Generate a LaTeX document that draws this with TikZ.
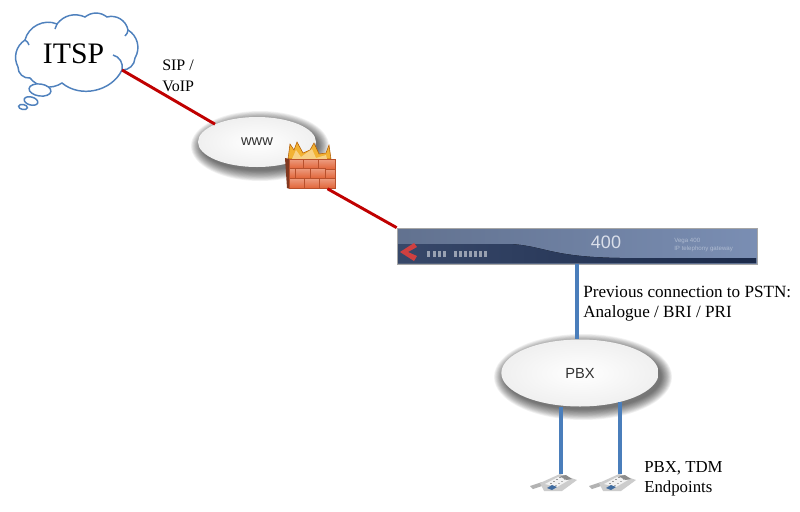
\documentclass[tikz,border=0pt]{standalone}
\usepackage{fontspec}
\setmainfont{Liberation Serif}
\setsansfont{Liberation Sans}
\usepackage{tikz}
\usetikzlibrary{calc, positioning, shapes.geometric}
\definecolor{xred}{HTML}{C00000}
\definecolor{xblue}{HTML}{4A7EBB}
\definecolor{xcloud}{HTML}{4F81BD}
\definecolor{xbrick}{HTML}{E2663A}
\definecolor{xmortar}{HTML}{B8502C}
\definecolor{xflame}{HTML}{F2B233}
\definecolor{xpanel}{HTML}{7A8EB3}
\definecolor{xdark}{HTML}{1B2A4A}
\tikzset{
  sipline/.style = {xred, line width=2.2pt},
  tdmline/.style = {xblue, line width=2.7pt},
  cloudline/.style = {xcloud, line width=1.1pt},
  label/.style = {font=\fontsize{12.85}{15}\selectfont, align=left, anchor=west, inner sep=0pt},
  hub/.style = {ellipse, inner sep=0pt, inner color=white, outer color=black!6, text=black!80, font=\sffamily\fontsize{11}{13}\selectfont},
  softshadow/.style = {black, fill opacity=0.05},
  brick/.style = {top color=xbrick!65!white, bottom color=xbrick, draw=xmortar, line width=0.4pt},
  pics/phone/.style = { code={
    \fill[black!30] (-22,3) -- (-10,-1) -- (-7,2) -- (-19,6) -- cycle;
    \fill[black!20] (-12,0) -- (8,-9) -- (25,-3) -- (10,8) -- (-8,8) -- cycle;
    \fill[black!5] (-7,1) -- (6,-6) -- (17,-3) -- (5,4) -- cycle;
    \fill[black!45] (8,-7) -- (14,-8) -- (20,-4) -- (14,-3) -- cycle;
    \fill[xblue!85!black] (-5,5) -- (0,2) -- (5,4) -- (0,7) -- cycle;
    \foreach \k in {0,...,3} { \fill[black!40] (-2+3*\k,0-2*\k) rectangle ++(1.6,1); \fill[black!30] (3+3*\k,2-2*\k) rectangle ++(1.6,1); }
  }},
}

\begin{document}
\begin{tikzpicture}[x=0.75pt, y=-0.75pt]
  \useasboundingbox (0,0) rectangle (800,511);
  \fill[white] (0,0) rectangle (800,511);

  % cloud
  \draw[cloudline, fill=white] (25,40) to[bend left=50] (57,24) to[bend left=38] (85,17) to[bend left=38] (107,17)
    to[bend left=48] (128,30) to[bend left=45] (135,58) to[bend left=45] (122,70) to[bend left=52] (62,83)
    to[bend left=42] (30,78) to[bend left=50] (18,67) to[bend left=42] (25,40);
  \draw[cloudline] (122,70) to[bend right=45] (113,55);
  \draw[cloudline] (25,40) to[bend left=20] (29,45);
  \draw[cloudline] (57,24) to[bend left=15] (55,29);
  \draw[cloudline] (128,30) to[bend left=20] (125,36);
  \draw[cloudline, fill=white, rotate around={-8:(40,90)}] (40,90) ellipse (11 and 6);
  \draw[cloudline, fill=white, rotate around={-15:(31,101)}] (31,101) ellipse (7 and 4);
  \draw[cloudline, fill=white, rotate around={-10:(23,107)}] (23,107) ellipse (4.5 and 2.5);
  \node[font=\fontsize{22.3}{25}\selectfont, inner sep=0pt] (itsp) at (73.5,54) {ITSP};
  \coordinate (cloudtip) at (122,70);

  % soft shadows under the two ellipses
  \foreach \i in {0,...,13} {
    \fill[softshadow] (260,146) ellipse ({69-0.8*\i} and {35-0.8*\i});
    \fill[softshadow] (583,377) ellipse ({89-0.8*\i} and {43-0.8*\i});
  }
  \node[hub, minimum width=88.5pt, minimum height=37.5pt] (www) at (257,142) {www};
  \node[hub, minimum width=118pt, minimum height=50.25pt] (pbx) at (580,373) {PBX};

  % firewall
  \fill[xflame, draw=orange!70!black, line width=0.4pt] (288,159) -- (290,144) -- (294,150) -- (297,142) -- (303,153) -- (310,150) -- (314,143) -- (319,154) -- (326,153) -- (329,145) -- (331,159) -- cycle;
  \fill[xflame!60!white] (292,159) -- (296,150) -- (301,157) -- (312,149) -- (316,158) -- (326,155) -- (327,159) -- cycle;
  \node[minimum width=37.5pt, minimum height=23.25pt, inner sep=0pt] (firewall) at (310,173) {};
  \fill[xmortar!70!black] (285,158) -- (290,159) -- (290,189) -- (287,188) -- cycle;
  \foreach \xa/\xb/\ya in {289/303/159, 303/318/159, 318/335/159.5,
      289/295/168.5, 295/310/168.5, 310/325/168.5, 325/335/169,
      289/304/178.5, 304/319/178.5, 319/335/178.5} {
    \draw[brick] (\xa,\ya) rectangle (\xb,\ya+9.5);
  }

  % gateway
  \node[draw=black!35, line width=0.5pt, left color=xpanel!80!black, right color=xpanel, minimum width=270pt, minimum height=27pt, inner sep=0pt] (gateway) at (577,246) {};
  \fill[left color=xdark!70!xpanel, right color=xdark] (398,244) -- (510,244) .. controls (545,246) and (550,257) .. (620,258) -- (756,258) -- (756,263) -- (398,263) -- cycle;
  \fill[xred!75!white] (414,243) -- (400,252) -- (414,261) -- (417,256) -- (408,252) -- (417,247) -- cycle;
  \foreach \lx in {427,433,438,443,454,459,464,469,474,479,484} {
    \fill[white, fill opacity=0.5] (\lx,251) rectangle ++(3.4,6);
  }
  \node[white!72!xpanel, font=\sffamily\fontsize{13.5}{15}\selectfont, inner sep=0pt] (model) at (606,242) {400};
  \node[white!40!xpanel, font=\sffamily\fontsize{4.6}{5.6}\selectfont, align=left, anchor=west, inner sep=0pt] (title) at (674,245) {Vega 400\\IP telephony gateway};

  % connections
  \draw[sipline] (cloudtip) -- (www.157);
  \draw[sipline] (firewall.-42) -- (gateway.north west);
  \draw[tdmline] (gateway.south) -- (pbx.north -| gateway.south);

  % phones
  \coordinate (phone1) at (552,483);
  \coordinate (phone2) at (611,483);
  \pic at (phone1) {phone};
  \pic at (phone2) {phone};
  \draw[tdmline] (phone1 -| 561,0) ++(0,-9) coordinate (p1top) -- (p1top |- pbx.south);
  \draw[tdmline] (phone2 -| 620,0) ++(0,-9) coordinate (p2top) -- ($(p2top |- pbx.south)+(0,-5)$);

  % labels
  \node[label, font=\fontsize{12}{16}\selectfont] (sip) at (162,76) {SIP /\\VoIP};
  \node[label] (pstn) at (583,304) {Previous connection to PSTN:\\Analogue / BRI / PRI};
  \node[label, font=\fontsize{12.6}{15}\selectfont] (endpoints) at (644,479) {PBX, TDM\\Endpoints};
\end{tikzpicture}
\end{document}
